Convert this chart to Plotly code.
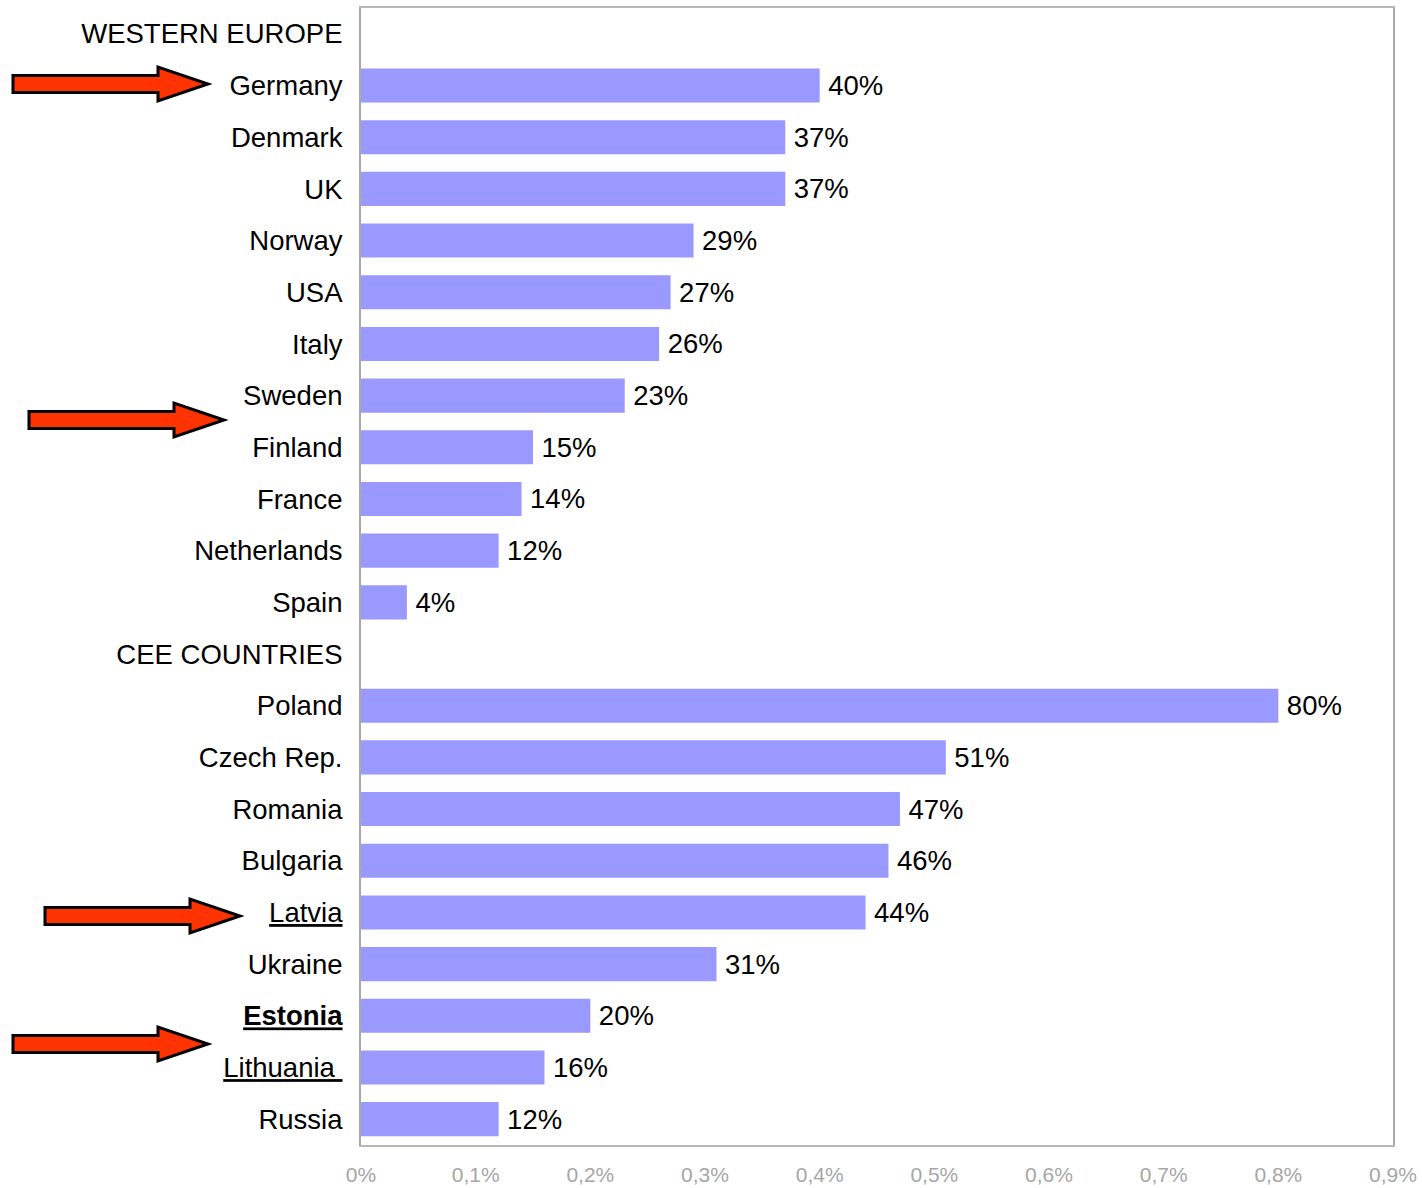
import plotly.graph_objects as go

categories = ["WESTERN EUROPE", "Germany", "Denmark", "UK", "Norway", "USA", "Italy",
              "Sweden", "Finland", "France", "Netherlands", "Spain",
              "CEE COUNTRIES", "Poland", "Czech Rep.", "Romania", "Bulgaria",
              "Latvia", "Ukraine", "Estonia", "Lithuania\u00a0", "Russia"]
values = [None, 0.40, 0.37, 0.37, 0.29, 0.27, 0.26, 0.23, 0.15, 0.14, 0.12, 0.04,
          None, 0.80, 0.51, 0.47, 0.46, 0.44, 0.31, 0.20, 0.16, 0.12]
tick_labels = ["WESTERN EUROPE", "Germany", "Denmark", "UK", "Norway", "USA", "Italy",
               "Sweden", "Finland", "France", "Netherlands", "Spain",
               "CEE COUNTRIES", "Poland", "Czech Rep.", "Romania", "Bulgaria",
               "<u>Latvia</u>", "Ukraine", "<b><u>Estonia</u></b>", "<u>Lithuania\u00a0</u>", "Russia"]
x_tickvals = [0, 0.1, 0.2, 0.3, 0.4, 0.5, 0.6, 0.7, 0.8, 0.9]
x_ticktext = ["0%", "0,1%", "0,2%", "0,3%", "0,4%", "0,5%", "0,6%", "0,7%", "0,8%", "0,9%"]

W, H = 1422, 1188
L, R, T, B = 361, 29, 8, 43
pw, ph = W - L - R, H - T - B

def px2paper(x, y):
    return (x - L) / pw, 1 - (y - T) / ph

# arrow geometry in pixels: (tail x, center y)
arrow_pos = [(13, 84), (29, 420), (45, 916), (13, 1044)]

def arrow_path(x0, cy):
    shaft_len, total, sh, hh = 145, 195, 8.5, 17
    pts = [(x0, cy - sh), (x0 + shaft_len, cy - sh), (x0 + shaft_len, cy - hh),
           (x0 + total, cy), (x0 + shaft_len, cy + hh), (x0 + shaft_len, cy + sh),
           (x0, cy + sh)]
    s = ""
    for i, (x, y) in enumerate(pts):
        px, py = px2paper(x, y)
        s += ("M" if i == 0 else "L") + f"{px:.5f},{py:.5f} "
    return s + "Z"

font = "Liberation Sans, Arial, sans-serif"
FS = 27.5

fig = go.Figure(go.Bar(
    x=values, y=categories, orientation="h",
    marker=dict(color="#9999ff", line=dict(width=0)),
    texttemplate="\u2009%{x:.0%}", textposition="outside",
    textfont=dict(size=FS, color="black", family=font),
    cliponaxis=False, hoverinfo="skip",
))

shapes = []
for (x0, cy) in arrow_pos:
    shapes.append(dict(type="path", xref="paper", yref="paper", path=arrow_path(x0, cy),
                       fillcolor="#ff3300", line=dict(color="black", width=3), layer="above"))

fig.update_layout(
    width=W, height=H,
    margin=dict(l=L, r=R, t=T, b=B, autoexpand=False),
    plot_bgcolor="white", paper_bgcolor="white",
    bargap=0.34, showlegend=False,
    font=dict(family=font, size=FS, color="black"),
    shapes=shapes,
    xaxis=dict(range=[0, 0.9], tickvals=x_tickvals, ticktext=x_ticktext,
               tickfont=dict(size=21, color="#a6a6a6", family=font),
               showgrid=False, zeroline=False, showline=True, linecolor="#b8b8b8",
               linewidth=2, mirror=True, ticks="", ticklabelstandoff=10,
               automargin=False),
    yaxis=dict(categoryorder="array", categoryarray=categories, autorange="reversed",
               tickvals=categories, ticktext=tick_labels,
               tickfont=dict(size=FS, color="black", family=font),
               showgrid=False, zeroline=False, showline=True, linecolor="#a8a8a8",
               linewidth=2, mirror=True, ticks="", ticklabelstandoff=11,
               automargin=False),
)

fig.write_html("out.html", config={"displayModeBar": False},
               post_script="document.body.style.margin='0';")
